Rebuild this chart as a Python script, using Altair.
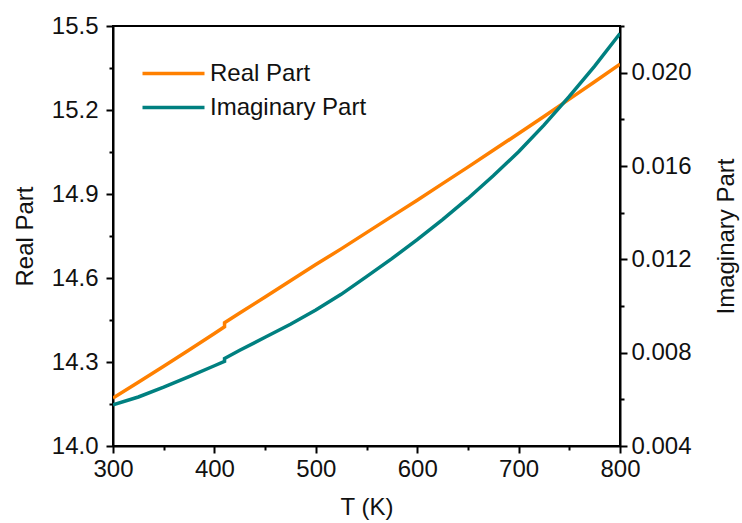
import altair as alt
import pandas as pd

# Temperature grid (K); 410 K appears twice because of the small step there
T_real = [300, 325, 350, 375, 400, 410, 410, 425, 450, 475, 500, 525, 550, 575,
          600, 625, 650, 675, 700, 725, 750, 775, 800]
real_part = [14.171, 14.228, 14.285, 14.343, 14.402, 14.426, 14.440, 14.475, 14.532,
             14.590, 14.648, 14.704, 14.762, 14.820, 14.878, 14.937, 14.996, 15.056,
             15.116, 15.177, 15.239, 15.301, 15.364]

T_imag = [300, 325, 350, 375, 400, 410, 410, 425, 450, 475, 500, 525, 550, 575,
          600, 625, 650, 675, 700, 725, 750, 775, 800]
imag_part = [0.00576, 0.00610, 0.00652, 0.00697, 0.00744, 0.00763, 0.00775, 0.00810,
             0.00866, 0.00922, 0.00983, 0.01050, 0.01126, 0.01203, 0.01284, 0.01370,
             0.01461, 0.01558, 0.01661, 0.01775, 0.01898, 0.02028, 0.02168]

series_names = ["Real Part", "Imaginary Part"]
series_colors = ["#FF8000", "#008080"]

x_ticks = [300, 350, 400, 450, 500, 550, 600, 650, 700, 750, 800]
left_ticks = [14.0, 14.15, 14.3, 14.45, 14.6, 14.75, 14.9, 15.05, 15.2, 15.35, 15.5]
right_ticks = [0.004, 0.006, 0.008, 0.010, 0.012, 0.014, 0.016, 0.018, 0.020, 0.022]

df_real = pd.DataFrame({"T": T_real, "v": real_part, "series": series_names[0],
                        "idx": range(len(T_real))})
df_imag = pd.DataFrame({"T": T_imag, "v": imag_part, "series": series_names[1],
                        "idx": range(len(T_imag))})

FONT = "Liberation Sans"
FS = 24

color = alt.Color(
    "series:N",
    scale=alt.Scale(domain=series_names, range=series_colors),
    legend=alt.Legend(
        title=None, orient="none", legendX=43, legendY=30,
        symbolType="M-2,0H2", symbolSize=961, symbolStrokeWidth=3.5,
        labelFont=FONT, labelFontSize=FS, labelColor="#111111",
        labelOffset=19, rowPadding=4, padding=0,
    ),
)

x_axis = alt.Axis(
    values=x_ticks, title="T (K)",
    labelExpr="datum.value % 100 === 0 ? format(datum.value, 'd') : ''",
    tickSize={"condition": {"test": "datum.value % 100 === 0", "value": 7}, "value": 4},
    labelFlush=False, labelOverlap=False, titlePadding=14,
)

x = alt.X("T:Q", scale=alt.Scale(domain=[300, 800], nice=False, zero=False), axis=x_axis)

left_axis = alt.Axis(
    values=left_ticks, title="Real Part", orient="left",
    labelExpr="abs((datum.value-14)/0.3 - round((datum.value-14)/0.3)) < 0.01 ? format(datum.value, '.1f') : ''",
    tickSize={"condition": {"test": "abs((datum.value-14)/0.3 - round((datum.value-14)/0.3)) < 0.01", "value": 7}, "value": 4},
    labelOverlap=False, labelFlush=False, titlePadding=14, labelPadding=8,
)
right_axis = alt.Axis(
    values=right_ticks, title="Imaginary Part", orient="right",
    labelExpr="abs(datum.value/0.004 - round(datum.value/0.004)) < 0.01 ? format(datum.value, '.3f') : ''",
    tickSize={"condition": {"test": "abs(datum.value/0.004 - round(datum.value/0.004)) < 0.01", "value": 7}, "value": 4},
    labelOverlap=False, labelFlush=False, titleAngle=270, titleBaseline="top", titlePadding=23,
)

real_line = alt.Chart(df_real).mark_line(strokeWidth=3.5, clip=True).encode(
    x=x,
    y=alt.Y("v:Q", scale=alt.Scale(domain=[14.0, 15.5], nice=False, zero=False), axis=left_axis),
    color=color,
    order="idx:Q",
)

imag_line = alt.Chart(df_imag).mark_line(strokeWidth=3.5, clip=True).encode(
    x=x,
    y=alt.Y("v:Q", scale=alt.Scale(domain=[0.004, 0.022], nice=False, zero=False), axis=right_axis),
    color=color,
    order="idx:Q",
)

chart = alt.layer(real_line, imag_line).resolve_scale(y="independent").properties(
    width=507, height=420,
    padding={"left": 113, "top": 26, "right": 122, "bottom": 77},
    autosize=alt.AutoSizeParams(type="none"),
    background="white",
).configure_view(
    stroke="#000000", strokeWidth=2,
).configure_axis(
    grid=False, domainColor="#000000", domainWidth=2,
    tickColor="#000000", tickWidth=2,
    labelFont=FONT, labelFontSize=FS, labelColor="#111111", labelPadding=4,
    titleFont=FONT, titleFontSize=FS, titleColor="#111111", titleFontWeight="normal",
)

chart.save("out.html", embed_options={"renderer": "svg", "actions": False})
